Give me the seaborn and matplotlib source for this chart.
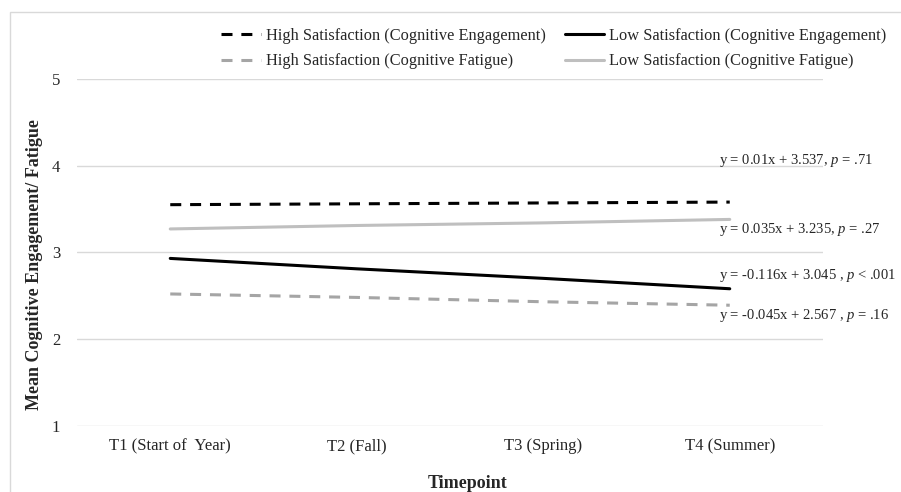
import matplotlib
matplotlib.use("Agg")
import matplotlib.pyplot as plt
import seaborn as sns
import pandas as pd
from matplotlib.patches import Rectangle

timepoints = ["T1 (Start of  Year)", "T2 (Fall)", "T3 (Spring)", "T4 (Summer)"]
high_ce = [3.55, 3.56, 3.57, 3.58]
low_ce = [2.93, 2.81, 2.70, 2.58]
high_cf = [2.52, 2.48, 2.43, 2.39]
low_cf = [3.27, 3.31, 3.34, 3.38]
series_names = ["High Satisfaction (Cognitive Engagement)",
                "High Satisfaction (Cognitive Fatigue)",
                "Low Satisfaction (Cognitive Engagement)",
                "Low Satisfaction (Cognitive Fatigue)"]
equations = ["y = 0.01x + 3.537, ", "y = 0.035x + 3.235, ",
             "y = -0.116x + 3.045 , ", "y = -0.045x + 2.567 , "]
pvals = [" = .71", " = .27", " < .001", " = .16"]

sns.set_theme(style="white")
plt.rcParams['font.family'] = ['Liberation Serif', 'DejaVu Serif']
plt.rcParams['mathtext.fontset'] = 'custom'
plt.rcParams['mathtext.rm'] = 'Liberation Serif'
plt.rcParams['mathtext.it'] = 'Liberation Serif:italic'

fig = plt.figure(figsize=(9.01, 4.92), dpi=100)
W, H = 901, 492
ax = fig.add_axes([77 / W, 1 - 425.7 / H, (823 - 77) / W, (425.7 - 79) / H])

rows = []
for name, vals in zip(series_names, [high_ce, high_cf, low_ce, low_cf]):
    for i, v in enumerate(vals):
        rows.append({"series": name, "x": i, "y": v})
df = pd.DataFrame(rows)

styles = {
    series_names[0]: dict(color="#000000", dashes=(3.6, 2.9)),
    series_names[1]: dict(color="#A5A5A5", dashes=(3.6, 2.9)),
    series_names[2]: dict(color="#000000", dashes=None),
    series_names[3]: dict(color="#BFBFBF", dashes=None),
}
handles = []
for name in series_names:
    sub = df[df.series == name]
    st = styles[name]
    sns.lineplot(data=sub, x="x", y="y", ax=ax, color=st["color"], lw=2.2,
                 label=name, legend=False)
    line = ax.get_lines()[-1]
    if st["dashes"] is not None:
        line.set_dashes(st["dashes"])
    handles.append(line)

ax.set_xlim(-0.5, 3.5)
ax.set_ylim(1, 5)
ax.set_yticks([1, 2, 3, 4, 5])
ax.set_xticks(range(4))
ax.set_xticklabels(timepoints)
ax.grid(axis="y", color="#D9D9D9", lw=1)
ax.grid(axis="x", visible=False)
for s in ax.spines.values():
    s.set_visible(False)
ax.tick_params(axis="y", length=0, pad=12, labelsize=12)
ax.tick_params(axis="x", length=0, pad=9, labelsize=12)
ax.set_xlabel("")
ax.set_ylabel("")
fig.text(468 / W, 1 - 483 / H, "Timepoint", fontweight="bold", fontsize=13,
         ha="center", va="center")
fig.text(35 / W, 1 - 265 / H, "Mean Cognitive Engagement/ Fatigue", fontweight="bold",
         fontsize=13, ha="center", va="center", rotation=90)

ann_y = [161, 229, 275, 315]
for eq, p, yy in zip(equations, pvals, ann_y):
    fig.text(719 / W, 1 - yy / H, eq + r"$\it{p}$" + p, fontsize=10.5,
             va="center", ha="left")

fig.legend(handles=handles, labels=series_names, ncol=2, frameon=False,
           loc="center", bbox_to_anchor=(554 / W, 1 - 48.5 / H),
           fontsize=11.8, handlelength=2.4, columnspacing=1.2,
           handletextpad=0.3, labelspacing=0.6)

fig.patches.append(Rectangle((10 / W, -0.1), 1.2, 1 - 12 / H + 0.1,
                             transform=fig.transFigure, fill=False,
                             edgecolor="#D9D9D9", lw=1))

fig.savefig("out.png", dpi=100)
